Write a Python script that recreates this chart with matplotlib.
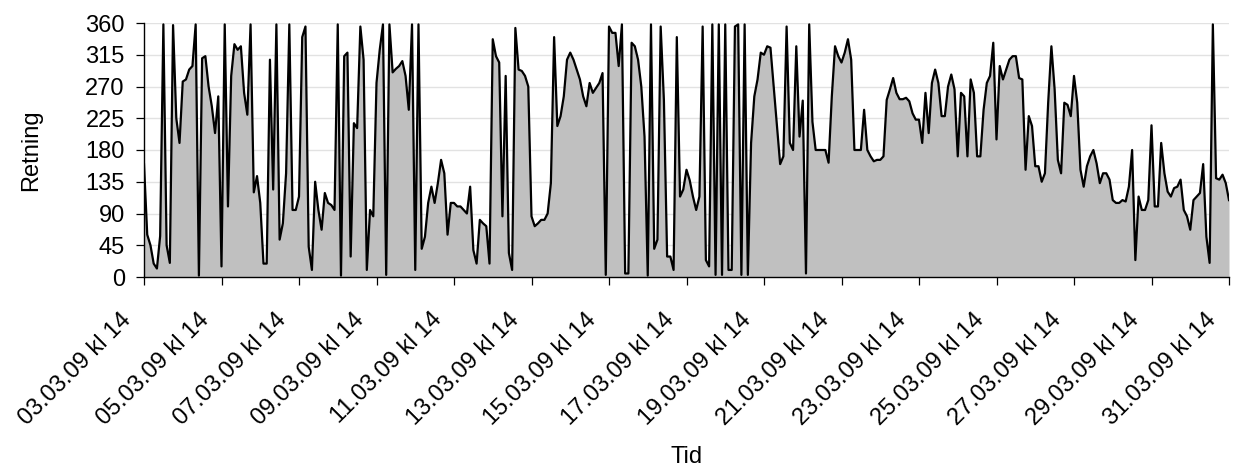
import numpy as np
import pandas as pd
import matplotlib
matplotlib.use("Agg")
import matplotlib.pyplot as plt
import matplotlib.dates as mdates
from matplotlib.transforms import ScaledTranslation

# Wind direction (degrees), 2-hourly readings from 03.03.09 kl 14
week1 = [160, 60, 45, 19, 12, 58, 358, 45, 20, 357,
         225, 190, 277, 280, 294, 299, 358, 2, 310, 313,
         270, 242, 204, 256, 15, 358, 100, 285, 330, 322,
         327, 261, 230, 358, 120, 143, 105, 19, 19, 308,
         124, 358, 53, 76, 147, 358, 95, 95, 114, 340,
         355, 43, 10, 135, 95, 67, 119, 105, 102, 95,
         358, 2, 313, 318, 29, 218, 211, 355, 308, 10,
         95, 86, 275, 322, 358, 3, 358, 290, 295, 299,
         306, 285, 237, 358]
week2 = [10, 358, 40, 57, 105, 128, 105, 133, 166, 147,
         60, 105, 105, 100, 100, 95, 90, 128, 38, 19,
         81, 76, 72, 19, 337, 313, 304, 86, 285, 34,
         10, 353, 294, 292, 285, 270, 86, 72, 76, 81,
         81, 90, 133, 340, 214, 228, 256, 308, 318, 308,
         294, 280, 256, 242, 275, 261, 268, 275, 289, 3,
         355, 346, 346, 299, 358, 5, 5, 332, 327, 308,
         270, 199, 2, 358, 40, 53, 355, 251, 29, 29,
         10, 340, 114, 124]
week3 = [152, 137, 114, 95, 114, 355, 24, 15, 358, 3,
         358, 3, 358, 10, 10, 355, 358, 3, 358, 3,
         190, 256, 280, 318, 315, 327, 325, 270, 214, 160,
         171, 355, 190, 180, 327, 199, 250, 5, 358, 220,
         180, 180, 180, 180, 162, 256, 327, 313, 304, 318,
         337, 308, 180, 180, 180, 237, 180, 171, 164, 166,
         166, 171, 251, 266, 282, 261, 252, 252, 254, 249,
         232, 223, 223, 190, 261, 204, 275, 294, 275, 228,
         228, 270, 287, 266]
week4 = [171, 261, 256, 171, 280, 261, 171, 171, 237, 275,
         285, 332, 195, 299, 280, 294, 308, 313, 313, 282,
         280, 152, 228, 214, 157, 157, 135, 147, 247, 327,
         266, 166, 147, 247, 244, 228, 285, 247, 152, 128,
         157, 171, 180, 161, 133, 147, 147, 138, 109, 105,
         105, 109, 107, 128, 180, 24, 114, 95, 95, 109,
         215, 100, 100, 190, 147, 121, 114, 126, 128, 138,
         95, 86, 67, 109, 114, 119, 160, 57, 20, 358,
         140, 138, 145, 133, 109]

y_ticks = list(range(0, 361, 45))

direction = np.array(week1 + week2 + week3 + week4, dtype=float)
times = pd.date_range("2009-03-03 14:00", periods=len(direction), freq="2h")
tick_times = pd.date_range("2009-03-03 14:00", "2009-03-31 14:00", freq="48h")
tick_labels = [t.strftime("%d.%m.%y kl %H") for t in tick_times]

x = mdates.date2num(times.to_pydatetime())
xt = mdates.date2num(tick_times.to_pydatetime())

plt.rcParams["font.family"] = ["Liberation Sans", "DejaVu Sans"]

W, H = 1238, 468
fig = plt.figure(figsize=(W / 100, H / 100), dpi=100)
ax = fig.add_axes([144 / W, 1 - 277 / H, 1085 / W, 254 / H])

ax.fill_between(x, direction, 0, color="#c0c0c0", linewidth=0)
ax.plot(x, direction, color="black", lw=1.6)

ax.set_xlim(x[0], x[-1])
ax.set_ylim(0, 360)
ax.set_yticks(y_ticks)
ax.grid(axis="y", color="#e2e2e2", lw=1.0)
ax.set_axisbelow(True)

for side in ("top", "right"):
    ax.spines[side].set_visible(False)
for side in ("left", "bottom"):
    ax.spines[side].set_color("black")
    ax.spines[side].set_linewidth(1.0)

ax.tick_params(axis="both", direction="out", length=5.8, width=0.9,
               labelsize=17, colors="black")
ax.tick_params(axis="y", pad=8)
ax.tick_params(axis="x", pad=17)

ax.set_xticks(xt, tick_labels, rotation=45, ha="right", va="top")
shift = ScaledTranslation(-0.08, 0, fig.dpi_scale_trans)
for lab in ax.get_xticklabels():
    lab.set_transform(lab.get_transform() + shift)

ax.set_ylabel("Retning", fontsize=17)
ax.yaxis.set_label_coords(-0.094, 0.5)
ax.set_xlabel("Tid", fontsize=17)
ax.xaxis.set_label_coords(0.5, -0.665)

fig.savefig("out.png", dpi=100)
